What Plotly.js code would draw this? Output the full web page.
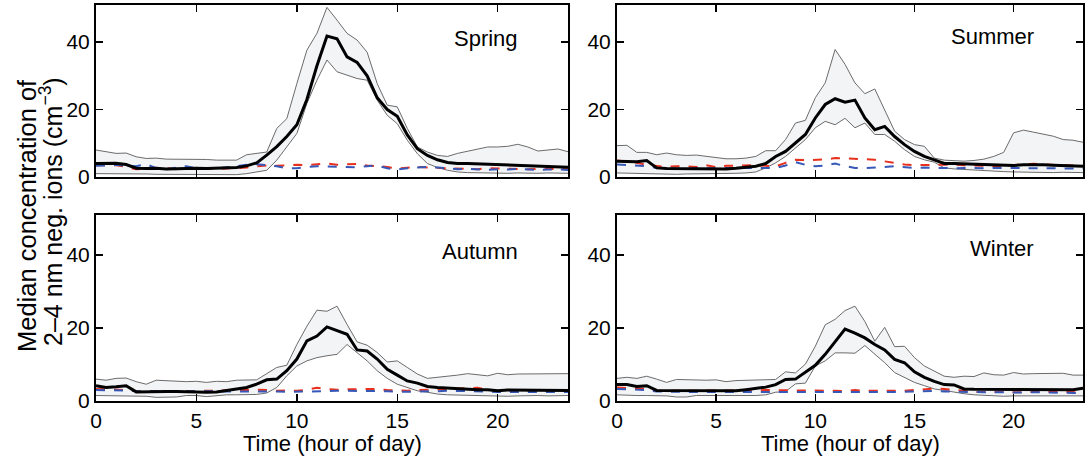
<!DOCTYPE html>
<html>
<head>
<meta charset="utf-8">
<script src="https://cdn.plot.ly/plotly-3.0.1.min.js"></script>
<style>html,body{margin:0;padding:0;background:#fff;}#chart{width:1090px;height:456px;}</style>
</head>
<body>
<div id="chart"></div>
<script>
var hours = [0,0.5,1,1.5,2,2.5,3,3.5,4,4.5,5,5.5,6,6.5,7,7.5,8,8.5,9,9.5,10,10.5,11,11.5,12,12.5,13,13.5,14,14.5,15,15.5,16,16.5,17,17.5,18,18.5,19,19.5,20,20.5,21,21.5,22,22.5,23,23.5];

var seasons = ["Spring","Summer","Autumn","Winter"];
var xTicks = [0,5,10,15,20];
var yTicks = [0,20,40];

var springMed = [4,4,4.1,3.7,2.6,2.5,2.6,2.4,2.5,2.5,2.6,2.5,2.6,2.7,2.8,3.3,4.2,6.5,9,12,15.5,23,33,41.8,41,35.6,34,30,23.5,20,18,12.5,8.4,6.4,5.1,4.3,4,4,3.9,3.8,3.6,3.6,3.6,3.5,3.4,3.2,3.1,2.9];
var springHi = [8,7.4,7,7.1,6,5.5,5.6,5.3,5.3,5.2,5.1,5.2,5,5.1,5,6.6,7,7.4,14.4,17.3,27.7,37.6,42.6,50.3,46.5,42.6,40.6,37,27.7,21.3,20.8,14.4,8.9,7.4,6.4,6.1,7,7.7,8.4,8.9,8.9,9.1,9.7,8.9,7.7,8,8.3,7.5];
var springLo = [1,1,1.1,1,0.9,0.9,0.8,0.8,0.9,0.8,0.8,0.8,0.8,0.8,0.7,1,1.5,2,5,8.9,12.9,21.8,28.7,34.7,31.2,30.2,29.2,28.7,22.8,18.3,15.8,10.9,6.9,4,2.8,2,1.5,1.3,1.2,1.2,1.1,1.1,1.2,1.1,1.1,1.2,1.1,1.1];
var springRed = [3.5,3.6,3.5,3,2.3,2.4,2.5,2.6,2.3,2.5,2.3,2.5,2.4,2.5,2.6,2.8,3.2,3.4,3.3,3.5,3.6,3.5,3.8,4,3.6,3.8,3.9,3.4,3.2,3,2.5,2.8,3,2.8,2.7,2.4,2.3,2.4,2.3,2.6,2.5,2.4,2.5,2.3,2.4,2.5,2.4,2.3];
var springBlue = [3.3,3.5,3.6,3.3,3.2,3.8,2.6,2.3,2.8,3.2,2.6,2.7,2.5,2.9,3.2,3.6,3.8,3.5,3.2,2.6,2.6,3,3.2,3.1,3,3.1,2.9,3.2,3.4,2.6,2.2,2.6,2.9,3,2.8,2.6,2.3,2.4,2.2,2.1,2.3,2.2,2.4,2.2,2.1,2.2,2.3,2.1];

var summerMed = [4.7,4.5,4.5,4.9,2.7,2.5,2.5,2.4,2.4,2.3,2.3,2.4,2.6,2.9,3.2,4,6.1,7.6,10.1,12.6,17.5,21.5,23.2,22.2,22.8,17.5,14,15,12,9.6,7.6,6.1,5.1,4,4,3.9,3.8,3.6,3.6,3.5,3.4,3.6,3.7,3.6,3.5,3.4,3.4,3.2];
var summerHi = [9.3,9.4,7.3,7.3,6.6,7.1,6.6,6.4,6.5,6.1,5.6,5.4,5.4,5.6,6.1,7.8,7.8,11.1,16,16.8,23.5,27.9,37.8,33.4,27.9,24.7,26.1,20,13.6,11.1,9.6,9.1,5.6,5,4.9,4.7,4.9,5.3,6.1,7.3,13.1,13.9,13.3,12.8,12.1,11.1,10.9,10.3];
var summerLo = [1.2,1.1,1,1,0.9,0.8,0.8,0.9,0.9,1,1,1,1.1,1.2,1.5,2.7,4.2,6.1,8.6,11.1,14.6,16.5,15.5,17.4,14.6,16,12.6,12.6,10.6,8.1,6.1,5.1,4.4,2.7,2.4,2.2,2,1.8,1.7,1.6,1.5,1.4,1.4,1.4,1.3,1.4,1.3,1.3];
var summerRed = [4.9,4.6,4.2,3.6,3.2,3,3.2,3,3,3.5,2.9,3.3,3.4,3.5,3.5,3.3,3.2,4.2,5.1,5,5,5.2,5.6,5.5,5.6,5.3,5.1,4.6,4,3.7,3.5,3.6,3.7,3.8,3.7,3.5,3.4,3.3,3.2,3.4,3.5,3.8,3.9,3.7,3.6,3.5,3.4,3.3];
var summerBlue = [3.7,3.5,3.5,3.2,2.7,2.6,2.6,2.5,2.6,2.6,2.5,2.6,2.6,2.7,2.7,2.6,2.7,3.4,4.4,3.6,3.2,3.4,4,3.2,2.7,2.6,2.7,3,3.2,2.9,2.7,2.8,2.7,2.6,2.6,2.7,2.6,2.6,2.7,2.7,2.6,2.7,2.6,2.6,2.5,2.6,2.6,2.5];

var autumnMed = [4.2,3.7,3.9,4.2,2.5,2.6,2.6,2.6,2.6,2.5,2.6,2.4,2.5,3,3.3,3.7,4.6,5.8,6,8.3,11.5,16.5,17.8,20.3,19.2,18.3,14,13.7,11.5,8.7,7.1,5.5,4.9,4,3.7,3.5,3.3,3.3,3.1,3.1,2.8,3,3,3.1,3.1,3,3,2.9];
var autumnHi = [6,5.7,6.2,6.3,5.3,4.6,5.7,5.5,5.4,5.3,5.4,5.1,5.4,5.3,5.7,5.8,5.8,7.5,9.2,9.8,15.5,20.5,24.9,24.6,26,21,16.2,15.3,13.3,10.7,11,9.2,7.4,6.2,6.5,6.6,7.1,7.5,7.2,6.9,7.6,7.2,7.4,7.4,7.4,7.5,7.4,7.5];
var autumnLo = [1.5,1.5,1.5,1.4,1.4,1.3,1,1,1.1,1.5,1.5,1.2,1.5,1.7,1.7,1.7,1.8,2.2,3.7,6.9,9.6,11,11.9,12.4,12.8,15.5,13.3,11,8.3,6.2,4.6,3.7,2.8,2.4,1.9,1.7,1.6,1.5,1.4,1.3,1.2,1.3,1.4,1.5,1.5,1.4,1.5,1.5];
var autumnRed = [3.3,3.2,3.3,3,2.7,2.7,2.8,2.7,2.8,2.7,2.7,2.6,2.8,2.9,3,3,3.1,3,2.8,2.9,2.8,3.1,3.6,3.3,3.1,3.2,3.2,3.2,3.3,3,2.9,2.8,3,3.1,3.2,3.3,3.3,3.5,3.6,3.1,2.8,2.9,2.9,2.8,2.9,2.8,2.9,2.8];
var autumnBlue = [3,3,3.1,2.9,2.7,2.7,2.7,2.7,2.6,2.6,2.6,2.6,2.7,2.8,2.8,2.8,2.8,2.7,2.6,2.5,2.5,2.6,2.6,2.7,2.8,2.8,2.9,2.9,2.8,2.7,2.5,2.5,2.5,2.6,2.7,2.8,2.8,2.8,2.7,2.6,2.5,2.5,2.6,2.6,2.5,2.6,2.5,2.5];

var winterMed = [4.5,4.5,4,4.2,2.9,2.9,2.8,2.9,2.9,2.8,2.8,2.7,2.8,3.1,3.5,3.8,4.5,5.9,6,7.8,9.8,12.8,16.4,19.7,18.6,17.3,15.5,14,11.4,10.5,8,6.5,5.4,4.5,4.4,3.3,3.2,3.2,3.3,3.2,3.1,3.2,3.2,3.2,3.1,3.2,3.1,3.5];
var winterHi = [6.2,6.5,6.2,6.8,6,5.1,5.9,5.8,5.7,5.7,5.8,5.3,5.6,5.7,5.7,6,5.9,8,7.7,10.1,15,20.9,22.4,24.8,26,21.8,16.4,20.2,14.9,15,11.9,9.6,8.3,6.8,6.5,6.8,6.7,7.7,7.2,7.1,7.8,7.4,7.5,7.5,7.4,7.6,7.1,7.1];
var winterLo = [1.7,1.5,1.5,1.5,1.5,1.4,1.1,1.1,1.5,1.5,1.4,1.3,1.4,1.5,1.5,1.7,2.4,2.6,4.7,4.9,9.6,11,13.2,13.2,13.1,15.2,12.8,10.5,7.8,6.5,5.1,4.2,3.3,2.9,2.4,2,1.7,1.5,1.4,1.3,1.4,1.4,1.5,1.4,1.4,1.5,1.4,1.4];
var winterRed = [3.7,3.5,3.3,3.3,2.8,2.8,2.7,2.8,2.8,2.8,2.8,2.8,2.8,2.9,2.9,3,3,2.9,2.8,2.8,3,3,2.8,2.7,3,2.8,2.8,2.8,2.7,2.8,3,3.2,3.4,3.3,3,2.6,2.5,2.5,2.6,2.5,2.4,2.5,2.6,2.5,2.5,2.5,2.4,2.4];
var winterBlue = [3.3,3.2,3.1,3,2.6,2.5,2.4,2.5,2.5,2.5,2.5,2.5,2.5,2.5,2.5,2.5,2.5,2.5,2.4,2.4,2.5,2.5,2.4,2.3,2.5,2.4,2.4,2.4,2.4,2.5,2.6,2.8,2.8,2.6,2.5,2.5,2.4,2.4,2.4,2.3,2.3,2.3,2.4,2.3,2.3,2.3,2.2,2.2];

var panels = [
  {name: seasons[0], med: springMed, hi: springHi, lo: springLo, red: springRed, blue: springBlue},
  {name: seasons[1], med: summerMed, hi: summerHi, lo: summerLo, red: summerRed, blue: summerBlue},
  {name: seasons[2], med: autumnMed, hi: autumnHi, lo: autumnLo, red: autumnRed, blue: autumnBlue},
  {name: seasons[3], med: winterMed, hi: winterHi, lo: winterLo, red: winterRed, blue: winterBlue}
];

var W = 1090, H = 456;
function px(x){ return x / W; }
function py(y){ return (H - y) / H; }
var xDomL = [px(96), px(568)], xDomR = [px(617), px(1083)];
var yDomT = [py(177), py(5)], yDomB = [py(401), py(215)];
var doms = [[xDomL, yDomT],[xDomR, yDomT],[xDomL, yDomB],[xDomR, yDomB]];
var labelPos = [[486,38],[992,37],[480,252],[1002,248]];

var FONT = "Liberation Sans, Arial, sans-serif";
var traces = [];
var layout = {
  width: W, height: H,
  margin: {l:0, r:0, t:0, b:0},
  paper_bgcolor: "#fff", plot_bgcolor: "#fff",
  showlegend: false,
  font: {family: FONT, size: 21, color: "#000"},
  annotations: []
};

panels.forEach(function(p, i){
  var n = i + 1;
  var xa = n === 1 ? "x" : "x" + n;
  var ya = n === 1 ? "y" : "y" + n;
  traces.push({x: hours, y: p.lo, xaxis: xa, yaxis: ya, mode: "lines", line: {color: "#6b6b6b", width: 1}, hoverinfo: "skip"});
  traces.push({x: hours, y: p.hi, xaxis: xa, yaxis: ya, mode: "lines", fill: "tonexty", fillcolor: "#f3f4f6", line: {color: "#6b6b6b", width: 1}, hoverinfo: "skip"});
  traces.push({x: hours, y: p.red, xaxis: xa, yaxis: ya, mode: "lines", line: {color: "#e8301f", width: 2, dash: "dash"}});
  traces.push({x: hours, y: p.blue, xaxis: xa, yaxis: ya, mode: "lines", line: {color: "#3658b8", width: 2, dash: "dash"}});
  traces.push({x: hours, y: p.med, xaxis: xa, yaxis: ya, mode: "lines", line: {color: "#000", width: 3}});

  var bottom = (i >= 2);
  var axCommon = {showline: true, mirror: "ticks", linecolor: "#000", linewidth: 2,
    ticks: "inside", ticklen: 7, tickwidth: 1.5, tickcolor: "#000",
    showgrid: false, zeroline: false, tickfont: {family: FONT, size: 21, color: "#000"}};
  var xKey = n === 1 ? "xaxis" : "xaxis" + n;
  var yKey = n === 1 ? "yaxis" : "yaxis" + n;
  layout[xKey] = Object.assign({}, axCommon, {domain: doms[i][0], range: [0, 23.5], anchor: ya,
    tickmode: "array", tickvals: xTicks, ticktext: xTicks.map(String), showticklabels: bottom, ticklabelstandoff: 0});
  layout[yKey] = Object.assign({}, axCommon, {domain: doms[i][1], range: [0, 51], anchor: xa,
    tickmode: "array", tickvals: yTicks, ticktext: yTicks.map(String), ticklabelstandoff: 0});
  if (bottom) {
    layout.annotations.push({xref: "paper", yref: "paper", x: (doms[i][0][0] + doms[i][0][1]) / 2, y: py(443),
      xanchor: "center", yanchor: "middle", showarrow: false, text: "Time (hour of day)",
      font: {family: FONT, size: 22, color: "#000"}});
  }
  layout.annotations.push({xref: "paper", yref: "paper", x: px(labelPos[i][0]), y: py(labelPos[i][1]),
    xanchor: "center", yanchor: "middle", showarrow: false, text: p.name, font: {family: FONT, size: 22, color: "#000"}});
});

layout.annotations.push({xref: "paper", yref: "paper", x: px(27), y: py(216), xanchor: "center", yanchor: "middle",
  showarrow: false, textangle: -90, text: "Median concentration of", font: {family: FONT, size: 25.5, color: "#000"}});
layout.annotations.push({xref: "paper", yref: "paper", x: px(51), y: py(212), xanchor: "center", yanchor: "middle",
  showarrow: false, textangle: -90, text: "2–4 nm neg. ions (cm<sup>−3</sup>)", font: {family: FONT, size: 25, color: "#000"}});

Plotly.newPlot("chart", traces, layout, {staticPlot: true, displayModeBar: false});
</script>
</body>
</html>
